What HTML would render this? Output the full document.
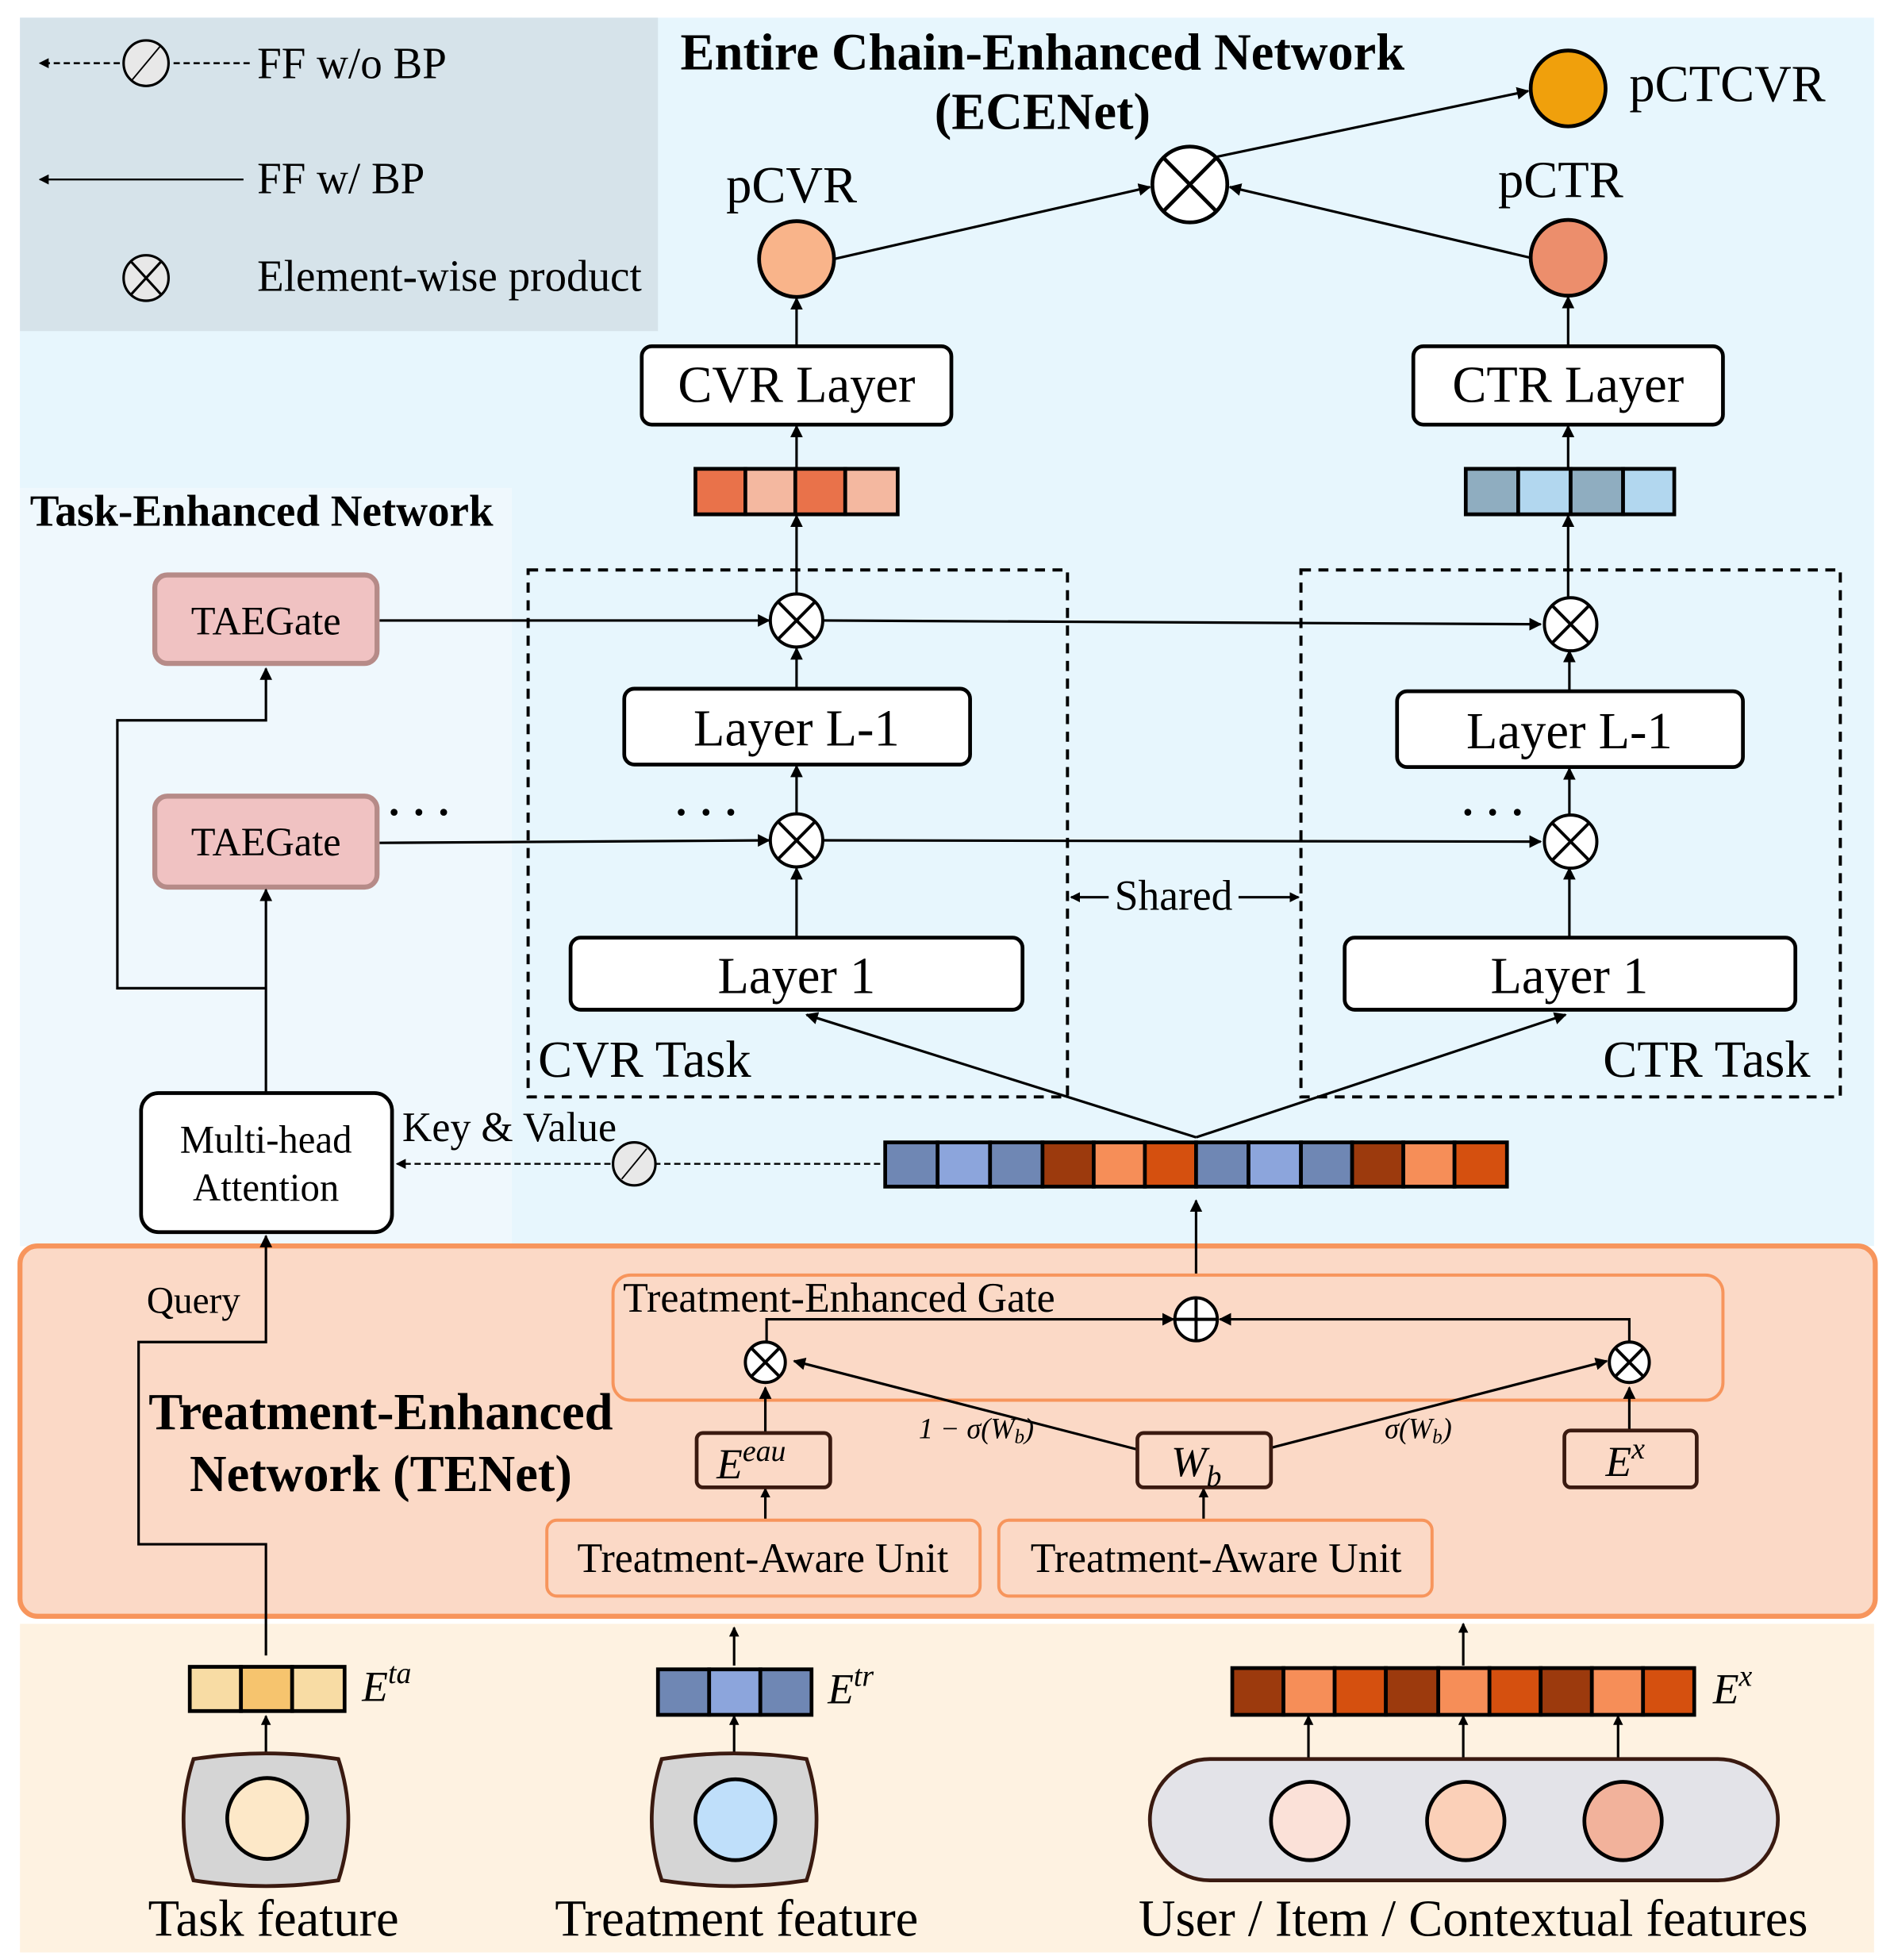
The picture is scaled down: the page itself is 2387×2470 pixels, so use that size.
<!DOCTYPE html>
<html><head><meta charset="utf-8"><style>html,body{margin:0;padding:0;background:#fff}svg{display:block}text{font-family:"Liberation Serif",serif;fill:#000}</style></head><body>
<svg width="2387" height="2470" viewBox="0 0 1517 1551" preserveAspectRatio="none" xmlns="http://www.w3.org/2000/svg">
<defs>
<marker id="a" markerWidth="10" markerHeight="10" refX="9" refY="5" orient="auto" markerUnits="userSpaceOnUse"><path d="M0,0 L10,5 L0,10 z" fill="#000"/></marker>
<marker id="s" markerWidth="8" markerHeight="8" refX="7" refY="4" orient="auto" markerUnits="userSpaceOnUse"><path d="M0,0 L8,4 L0,8 z" fill="#000"/></marker>
</defs>
<rect x="0" y="0" width="1517" height="1551" fill="#fff"/>
<rect x="16" y="14" width="1485" height="972" fill="#e7f6fd"/>
<rect x="16" y="386" width="394" height="600" fill="#eff8fd"/>
<rect x="16" y="14" width="394" height="372" fill="#e7f6fd"/>
<rect x="16" y="14" width="511" height="248" fill="#d6e3ea"/>
<rect x="16" y="1285" width="1485" height="260" fill="#fef2e1"/>
<rect x="16" y="986" width="1486" height="293" rx="14" fill="#fbd9c6" stroke="#f7955c" stroke-width="4"/>
<!-- legend -->
<line x1="200" y1="50" x2="32" y2="50" stroke="#000" stroke-width="1.5" stroke-dasharray="5,3" marker-end="url(#s)"/>
<ellipse cx="117" cy="50" rx="18" ry="18" fill="#e8e8e8" stroke="#000" stroke-width="2"/>
<line x1="106" y1="63" x2="128" y2="37" stroke="#000" stroke-width="1.2"/>
<text x="206" y="62" font-size="35">FF w/o BP</text>
<line x1="195" y1="142" x2="32" y2="142" stroke="#000" stroke-width="1.5" marker-end="url(#s)"/>
<text x="206" y="153" font-size="35">FF w/ BP</text>
<g transform="translate(117,220)"><ellipse rx="18" ry="18" fill="#e8e8e8" stroke="#000" stroke-width="2"/><line x1="-12" y1="-13" x2="12" y2="13" stroke="#000" stroke-width="2"/><line x1="-12" y1="13" x2="12" y2="-13" stroke="#000" stroke-width="2"/></g>
<text x="206" y="230" font-size="35">Element-wise product</text>
<text x="835" y="55" font-size="41" font-weight="bold" text-anchor="middle">Entire Chain-Enhanced Network</text>
<text x="835" y="102" font-size="41" font-weight="bold" text-anchor="middle">(ECENet)</text>
<text x="24" y="416" font-size="35" font-weight="bold">Task-Enhanced Network</text>
<!-- top -->
<text x="634" y="160" font-size="41" text-anchor="middle">pCVR</text>
<text x="1250" y="156" font-size="41" text-anchor="middle">pCTR</text>
<text x="1305" y="80" font-size="41">pCTCVR</text>
<circle cx="638" cy="205" r="30" fill="#f9b48a" stroke="#000" stroke-width="3"/>
<circle cx="1256" cy="204" r="30" fill="#ec8e6c" stroke="#000" stroke-width="3"/>
<circle cx="1256" cy="70" r="30" fill="#f0a00c" stroke="#000" stroke-width="3"/>
<g transform="translate(953,146)"><circle r="30" fill="#fff" stroke="#000" stroke-width="3"/><line x1="-21" y1="-21" x2="21" y2="21" stroke="#000" stroke-width="3"/><line x1="-21" y1="21" x2="21" y2="-21" stroke="#000" stroke-width="3"/></g>
<line x1="668" y1="205" x2="921" y2="148" stroke="#000" stroke-width="2" marker-end="url(#a)"/>
<line x1="1226" y1="204" x2="985" y2="148" stroke="#000" stroke-width="2" marker-end="url(#a)"/>
<line x1="975" y1="124" x2="1224" y2="72" stroke="#000" stroke-width="2" marker-end="url(#a)"/>
<rect x="514" y="274" width="248" height="62" rx="8" fill="#fff" stroke="#000" stroke-width="3"/>
<text x="638" y="318" font-size="41" text-anchor="middle">CVR Layer</text>
<rect x="1132" y="274" width="248" height="62" rx="8" fill="#fff" stroke="#000" stroke-width="3"/>
<text x="1256" y="318" font-size="41" text-anchor="middle">CTR Layer</text>
<line x1="638" y1="274" x2="638" y2="236" stroke="#000" stroke-width="2" marker-end="url(#a)"/>
<line x1="1256" y1="274" x2="1256" y2="235" stroke="#000" stroke-width="2" marker-end="url(#a)"/>
<line x1="638" y1="371" x2="638" y2="337" stroke="#000" stroke-width="2" marker-end="url(#a)"/>
<line x1="1256" y1="371" x2="1256" y2="337" stroke="#000" stroke-width="2" marker-end="url(#a)"/>
<g stroke="#000" stroke-width="3"><rect x="557" y="371" width="40" height="36" fill="#e9724a"/><rect x="597" y="371" width="40" height="36" fill="#f4b8a0"/><rect x="637" y="371" width="40" height="36" fill="#e9724a"/><rect x="677" y="371" width="42" height="36" fill="#f4b8a0"/>
<rect x="1174" y="371" width="42" height="36" fill="#8fadc0"/><rect x="1216" y="371" width="42" height="36" fill="#b2d7ef"/><rect x="1258" y="371" width="42" height="36" fill="#8fadc0"/><rect x="1300" y="371" width="41" height="36" fill="#b2d7ef"/></g>
<line x1="638" y1="470" x2="638" y2="408" stroke="#000" stroke-width="2" marker-end="url(#a)"/>
<line x1="1256" y1="472" x2="1256" y2="408" stroke="#000" stroke-width="2" marker-end="url(#a)"/>
<!-- task boxes -->
<rect x="423" y="451" width="432" height="417" fill="none" stroke="#000" stroke-width="2.5" stroke-dasharray="8,6"/>
<rect x="1042" y="451" width="432" height="417" fill="none" stroke="#000" stroke-width="2.5" stroke-dasharray="8,6"/>
<text x="431" y="852" font-size="41">CVR Task</text>
<text x="1450" y="852" font-size="41" text-anchor="end">CTR Task</text>
<g id="ot"><circle cx="638" cy="491" r="21" fill="#fff" stroke="#000" stroke-width="2.5"/><line x1="623" y1="476" x2="653" y2="506" stroke="#000" stroke-width="2.5"/><line x1="623" y1="506" x2="653" y2="476" stroke="#000" stroke-width="2.5"/></g>
<use href="#ot" transform="translate(0,174)"/>
<use href="#ot" transform="translate(620,3)"/>
<use href="#ot" transform="translate(620,175)"/>
<rect x="500" y="545" width="277" height="60" rx="8" fill="#fff" stroke="#000" stroke-width="3"/>
<text x="638" y="590" font-size="41" text-anchor="middle">Layer L-1</text>
<rect x="1119" y="547" width="277" height="60" rx="8" fill="#fff" stroke="#000" stroke-width="3"/>
<text x="1257" y="592" font-size="41" text-anchor="middle">Layer L-1</text>
<rect x="457" y="742" width="362" height="57" rx="8" fill="#fff" stroke="#000" stroke-width="3"/>
<text x="638" y="786" font-size="41" text-anchor="middle">Layer 1</text>
<rect x="1077" y="742" width="361" height="57" rx="8" fill="#fff" stroke="#000" stroke-width="3"/>
<text x="1257" y="786" font-size="41" text-anchor="middle">Layer 1</text>
<g stroke="#000" stroke-width="2">
<line x1="638" y1="545" x2="638" y2="513" marker-end="url(#a)"/>
<line x1="1257" y1="547" x2="1257" y2="515" marker-end="url(#a)"/>
<line x1="638" y1="645" x2="638" y2="606" marker-end="url(#a)"/>
<line x1="1257" y1="645" x2="1257" y2="608" marker-end="url(#a)"/>
<line x1="638" y1="742" x2="638" y2="687" marker-end="url(#a)"/>
<line x1="1257" y1="742" x2="1257" y2="687" marker-end="url(#a)"/>
<line x1="660" y1="491" x2="1234" y2="494" marker-end="url(#a)"/>
<line x1="660" y1="665" x2="1234" y2="666" marker-end="url(#a)"/>
<line x1="304" y1="491" x2="616" y2="491" marker-end="url(#a)"/>
<line x1="304" y1="667" x2="616" y2="665" marker-end="url(#a)"/>
<polyline points="958,900 646,803" fill="none" marker-end="url(#a)"/>
<polyline points="958,900 1254,803" fill="none" marker-end="url(#a)"/>
<line x1="958" y1="1028" x2="958" y2="950" marker-end="url(#a)"/>
<line x1="888" y1="710" x2="858" y2="710" marker-end="url(#s)"/>
<line x1="992" y1="710" x2="1040" y2="710" marker-end="url(#s)"/>
</g>
<text x="940" y="720" font-size="34" text-anchor="middle">Shared</text>
<text x="310" y="654" font-size="34" font-weight="bold">· · ·</text>
<text x="540" y="654" font-size="34" font-weight="bold">· · ·</text>
<text x="1170" y="654" font-size="34" font-weight="bold">· · ·</text>
<!-- TAEGates -->
<rect x="124" y="455" width="178" height="70" rx="10" fill="#f0c2c2" stroke="#b68b88" stroke-width="4"/>
<text x="213" y="502" font-size="32" text-anchor="middle">TAEGate</text>
<rect x="124" y="630" width="178" height="72" rx="10" fill="#f0c2c2" stroke="#b68b88" stroke-width="4"/>
<text x="213" y="677" font-size="32" text-anchor="middle">TAEGate</text>
<rect x="113" y="865" width="201" height="110" rx="14" fill="#fff" stroke="#000" stroke-width="3"/>
<text x="213" y="912" font-size="31" text-anchor="middle">Multi-head</text>
<text x="213" y="950" font-size="31" text-anchor="middle">Attention</text>
<g stroke="#000" stroke-width="2" fill="none">
<line x1="213" y1="865" x2="213" y2="704" marker-end="url(#a)"/>
<polyline points="213,782 94,782 94,570 213,570 213,529" marker-end="url(#a)"/>
<polyline points="213,1310 213,1222 111,1222 111,1062 213,1062 213,978" marker-end="url(#a)"/>
</g>
<text x="155" y="1039" font-size="30" text-anchor="middle">Query</text>
<text x="408" y="903" font-size="33" text-anchor="middle">Key &amp; Value</text>
<line x1="705" y1="921" x2="318" y2="921" stroke="#000" stroke-width="1.5" stroke-dasharray="5,3" marker-end="url(#s)"/>
<circle cx="508" cy="921" r="17" fill="#e8e8e8" stroke="#000" stroke-width="2"/>
<line x1="498" y1="933" x2="518" y2="909" stroke="#000" stroke-width="1.2"/>
<g stroke="#000" stroke-width="3">
<rect x="709" y="904" width="42" height="35" fill="#6f87b4"/><rect x="751" y="904" width="42" height="35" fill="#8ca5dc"/><rect x="793" y="904" width="42" height="35" fill="#6f87b4"/><rect x="835" y="904" width="41" height="35" fill="#9c3a0d"/><rect x="876" y="904" width="41" height="35" fill="#f68e58"/><rect x="917" y="904" width="41" height="35" fill="#d5500f"/><rect x="958" y="904" width="42" height="35" fill="#6f87b4"/><rect x="1000" y="904" width="42" height="35" fill="#8ca5dc"/><rect x="1042" y="904" width="41" height="35" fill="#6f87b4"/><rect x="1083" y="904" width="41" height="35" fill="#9c3a0d"/><rect x="1124" y="904" width="41" height="35" fill="#f68e58"/><rect x="1165" y="904" width="42" height="35" fill="#d5500f"/>
</g>
<!-- TENet -->
<rect x="491" y="1009" width="889" height="99" rx="14" fill="#fbd9c6" stroke="#f7955c" stroke-width="2.5"/>
<text x="499" y="1038" font-size="33">Treatment-Enhanced Gate</text>
<text x="305" y="1131" font-size="41" font-weight="bold" text-anchor="middle">Treatment-Enhanced</text>
<text x="305" y="1180" font-size="41" font-weight="bold" text-anchor="middle">Network (TENet)</text>
<g stroke="#000" stroke-width="2" fill="none">
<polyline points="614,1062 614,1044 940,1044" marker-end="url(#a)"/>
<polyline points="1305,1062 1305,1044 977,1044" marker-end="url(#a)"/>
<polyline points="962,1160 636,1077" marker-end="url(#a)"/>
<polyline points="962,1160 1287,1077" marker-end="url(#a)"/>
<line x1="613" y1="1133" x2="613" y2="1098" marker-end="url(#a)"/>
<line x1="1305" y1="1133" x2="1305" y2="1098" marker-end="url(#a)"/>
<line x1="613" y1="1203" x2="613" y2="1178" marker-end="url(#s)"/>
<line x1="964" y1="1203" x2="964" y2="1178" marker-end="url(#s)"/>
</g>
<circle cx="958" cy="1044" r="17" fill="#fff" stroke="#000" stroke-width="2.5"/>
<line x1="941" y1="1044" x2="975" y2="1044" stroke="#000" stroke-width="2.5"/><line x1="958" y1="1027" x2="958" y2="1061" stroke="#000" stroke-width="2.5"/>
<g transform="translate(613,1078)"><circle r="16" fill="#fff" stroke="#000" stroke-width="2.5"/><line x1="-11" y1="-11" x2="11" y2="11" stroke="#000" stroke-width="2.5"/><line x1="-11" y1="11" x2="11" y2="-11" stroke="#000" stroke-width="2.5"/></g>
<g transform="translate(1305,1078)"><circle r="16" fill="#fff" stroke="#000" stroke-width="2.5"/><line x1="-11" y1="-11" x2="11" y2="11" stroke="#000" stroke-width="2.5"/><line x1="-11" y1="11" x2="11" y2="-11" stroke="#000" stroke-width="2.5"/></g>
<text x="782" y="1138" font-size="23" text-anchor="middle" font-style="italic">1 − σ(W<tspan font-size="16" dy="4">b</tspan><tspan dy="-4">)</tspan></text>
<text x="1136" y="1138" font-size="23" text-anchor="middle" font-style="italic">σ(W<tspan font-size="16" dy="4">b</tspan><tspan dy="-4">)</tspan></text>
<g fill="#fbd9c6" stroke="#3a1a10" stroke-width="3">
<rect x="558" y="1134" width="107" height="43" rx="5"/>
<rect x="911" y="1134" width="107" height="43" rx="5"/>
<rect x="1253" y="1132" width="106" height="45" rx="5"/>
</g>
<text x="574" y="1170" font-size="34" font-style="italic">E<tspan font-size="24" dy="-14">eau</tspan></text>
<text x="938" y="1168" font-size="34" font-style="italic">W<tspan font-size="24" dy="8">b</tspan></text>
<text x="1286" y="1168" font-size="34" font-style="italic">E<tspan font-size="24" dy="-14">x</tspan></text>
<rect x="438" y="1203" width="347" height="60" rx="8" fill="#fbd9c6" stroke="#f7955c" stroke-width="2.5"/>
<text x="611" y="1244" font-size="33" text-anchor="middle">Treatment-Aware Unit</text>
<rect x="800" y="1203" width="347" height="60" rx="8" fill="#fbd9c6" stroke="#f7955c" stroke-width="2.5"/>
<text x="974" y="1244" font-size="33" text-anchor="middle">Treatment-Aware Unit</text>
<!-- bottom -->
<g stroke="#000" stroke-width="2">
<line x1="588" y1="1318" x2="588" y2="1288" marker-end="url(#s)"/>
<line x1="1172" y1="1318" x2="1172" y2="1285" marker-end="url(#s)"/>
<line x1="213" y1="1390" x2="213" y2="1358" marker-end="url(#s)"/>
<line x1="588" y1="1390" x2="588" y2="1358" marker-end="url(#s)"/>
<line x1="1048" y1="1395" x2="1048" y2="1358" marker-end="url(#s)"/>
<line x1="1172" y1="1395" x2="1172" y2="1358" marker-end="url(#s)"/>
<line x1="1296" y1="1395" x2="1296" y2="1358" marker-end="url(#s)"/>
</g>
<g stroke="#000" stroke-width="3">
<rect x="152" y="1319" width="41" height="35" fill="#f8dca4"/><rect x="193" y="1319" width="41" height="35" fill="#f6c46e"/><rect x="234" y="1319" width="42" height="35" fill="#f8dca4"/>
<rect x="527" y="1321" width="41" height="36" fill="#6f87b4"/><rect x="568" y="1321" width="41" height="36" fill="#8ca5dc"/><rect x="609" y="1321" width="41" height="36" fill="#6f87b4"/>
<rect x="987" y="1320" width="41" height="37" fill="#9c3a0d"/><rect x="1028" y="1320" width="41" height="37" fill="#f68e58"/><rect x="1069" y="1320" width="41" height="37" fill="#d5500f"/><rect x="1110" y="1320" width="42" height="37" fill="#9c3a0d"/><rect x="1152" y="1320" width="41" height="37" fill="#f68e58"/><rect x="1193" y="1320" width="41" height="37" fill="#d5500f"/><rect x="1234" y="1320" width="41" height="37" fill="#9c3a0d"/><rect x="1275" y="1320" width="41" height="37" fill="#f68e58"/><rect x="1316" y="1320" width="41" height="37" fill="#d5500f"/>
</g>
<text x="290" y="1346" font-size="34" font-style="italic">E<tspan font-size="24" dy="-14">ta</tspan></text>
<text x="663" y="1348" font-size="34" font-style="italic">E<tspan font-size="24" dy="-14">tr</tspan></text>
<text x="1372" y="1348" font-size="34" font-style="italic">E<tspan font-size="24" dy="-14">x</tspan></text>
<path d="M155,1392 Q213,1383 271,1392 Q287,1440 271,1488 Q213,1497 155,1488 Q139,1440 155,1392 z" fill="#d5d5d5" stroke="#3a1a10" stroke-width="3"/>
<ellipse cx="214" cy="1439" rx="32" ry="32" fill="#fde8c8" stroke="#000" stroke-width="3"/>
<path d="M530,1392 Q588,1383 646,1392 Q662,1440 646,1488 Q588,1497 530,1488 Q514,1440 530,1392 z" fill="#d5d5d5" stroke="#3a1a10" stroke-width="3"/>
<ellipse cx="589" cy="1440" rx="32" ry="32" fill="#bfdffa" stroke="#000" stroke-width="3"/>
<rect x="921" y="1392" width="503" height="96" rx="48" fill="#e3e3e8" stroke="#3a1a10" stroke-width="3"/>
<ellipse cx="1049" cy="1441" rx="31" ry="31" fill="#fbe1d8" stroke="#000" stroke-width="3"/>
<ellipse cx="1174" cy="1441" rx="31" ry="31" fill="#fbd0b8" stroke="#000" stroke-width="3"/>
<ellipse cx="1300" cy="1441" rx="31" ry="31" fill="#f2b29b" stroke="#000" stroke-width="3"/>
<text x="219" y="1532" font-size="41" text-anchor="middle">Task feature</text>
<text x="590" y="1532" font-size="41" text-anchor="middle">Treatment feature</text>
<text x="1180" y="1532" font-size="41" text-anchor="middle">User / Item / Contextual features</text>
</svg>
</body></html>
